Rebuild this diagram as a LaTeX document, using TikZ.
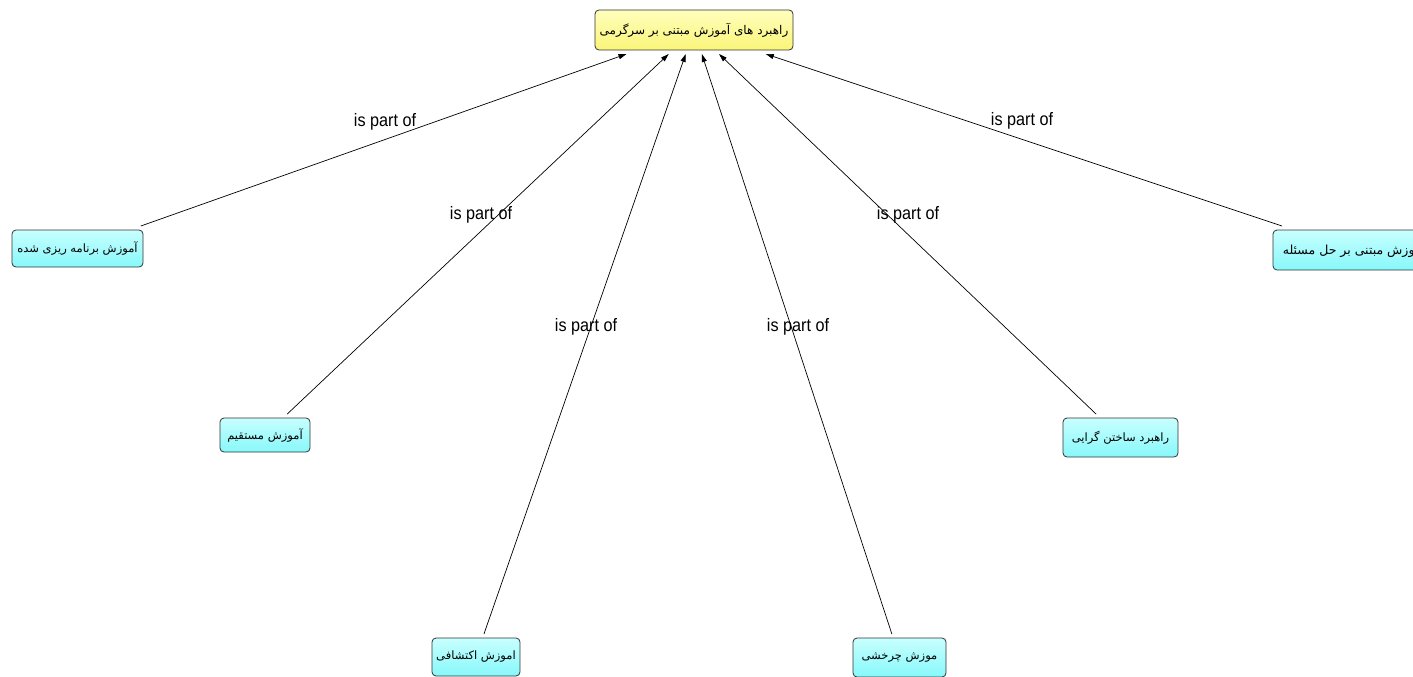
\documentclass[tikz,border=0pt]{standalone}
\usepackage{fontspec}
\usepackage{graphicx}
\setmainfont{Liberation Sans}
\newfontfamily\fa[Script=Arabic]{DejaVu Sans}
\TeXXeTstate=1
\usetikzlibrary{arrows.meta}
\definecolor{yelTop}{RGB}{255,255,190}
\definecolor{yelBot}{RGB}{250,245,120}
\definecolor{cyTop}{RGB}{200,255,255}
\definecolor{cyBot}{RGB}{135,248,250}
\definecolor{edgeGray}{RGB}{50,50,50}
\tikzset{
  concept/.style={draw=edgeGray, line width=0.8pt, rounded corners=4pt,
    inner sep=2pt, outer sep=4pt, font=\fa\fontsize{11.5}{13}\selectfont, text=black},
  rootbox/.style={concept, top color=yelTop, bottom color=yelBot},
  leafbox/.style={concept, top color=cyTop, bottom color=cyBot},
  rel/.style={-{Triangle[length=8pt,width=5pt]}, line width=0.7pt, black},
  lbl/.style={font=\fontsize{18}{20}\selectfont, inner sep=0pt, text=black}
}
\begin{document}
\begin{tikzpicture}[x=1pt,y=-1pt]
\useasboundingbox (0,0) rectangle (1413,677);
\clip (0,0) rectangle (1413,677);
\node[rootbox, minimum width=198pt, minimum height=40pt, font=\fa\fontsize{12}{14}\selectfont] (root) at (694,30) {\beginR راهبرد های آموزش مبتنی بر سرگرمی\endR};
\node[leafbox, minimum width=131pt, minimum height=37pt] (a) at (77.5,248.5) {\beginR آموزش برنامه ریزی شده\endR};
\node[leafbox, minimum width=162pt, minimum height=40pt, font=\fa\fontsize{12.5}{14}\selectfont] (b) at (1354,250) {\beginR آموزش مبتنی بر حل مسئله\endR};
\node[leafbox, minimum width=90pt, minimum height=34pt] (c) at (265,435) {\beginR آموزش مستقیم\endR};
\node[leafbox, minimum width=115pt, minimum height=39pt] (d) at (1120.5,437.5) {\beginR راهبرد ساختن گرایی\endR};
\node[leafbox, minimum width=88pt, minimum height=38pt] (e) at (476,657) {\beginR اموزش اکتشافی\endR};
\node[leafbox, minimum width=93pt, minimum height=39pt] (f) at (899.5,657.5) {\beginR موزش چرخشی\endR};
\draw[rel] (a) -- (root);
\draw[rel] (c) -- (root);
\draw[rel] (e) -- (root);
\draw[rel] (f) -- (root);
\draw[rel] (d) -- (root);
\draw[rel] (b) -- (root);
\node[lbl] (l1) at (385,122) {\scalebox{0.9}[1]{is part of}};
\node[lbl] (l2) at (481,215) {\scalebox{0.9}[1]{is part of}};
\node[lbl] (l3) at (586,327) {\scalebox{0.9}[1]{is part of}};
\node[lbl] (l4) at (798,327) {\scalebox{0.9}[1]{is part of}};
\node[lbl] (l5) at (908,215) {\scalebox{0.9}[1]{is part of}};
\node[lbl] (l6) at (1022,121) {\scalebox{0.9}[1]{is part of}};
\end{tikzpicture}
\end{document}
